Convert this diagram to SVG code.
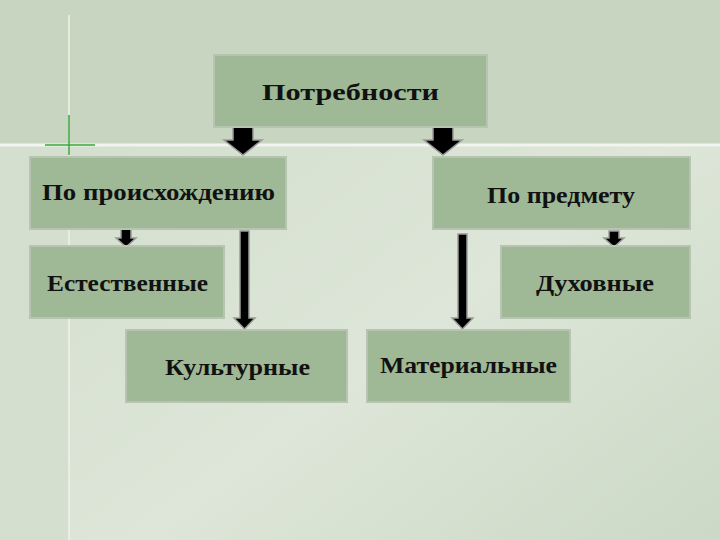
<svg xmlns="http://www.w3.org/2000/svg" width="720" height="540" viewBox="0 0 720 540">
<defs>
<linearGradient id="bg" x1="0" y1="0" x2="1" y2="1">
<stop offset="0" stop-color="#d0dccb"/><stop offset="0.6" stop-color="#dde6d8"/><stop offset="1" stop-color="#ccd9c6"/>
</linearGradient>
<style>
.b{fill:#9fb896;stroke:#b7c4b2;stroke-width:2}
.t{font-family:"Liberation Serif","DejaVu Serif",serif;font-size:24px;font-weight:bold;fill:#111;text-anchor:start}
.a{fill:#000;stroke:#9a9a9a;stroke-width:1.5}
</style>
</defs>
<rect width="720" height="540" fill="url(#bg)"/>
<rect width="720" height="145" fill="#c8d5c0"/>
<rect x="0" y="145" width="69" height="395" fill="#d4dfcf"/>
<line x1="0" y1="145" x2="720" y2="145" stroke="#f2f5ef" stroke-width="3"/>
<line x1="69" y1="15" x2="69" y2="540" stroke="#eef3ea" stroke-width="1.5"/>
<line x1="45" y1="145" x2="95" y2="145" stroke="#3aa53a" stroke-width="1.5"/>
<line x1="69" y1="115" x2="69" y2="155" stroke="#3aa53a" stroke-width="1.5"/>
<g id="connectors">
<path class="a" d="M233,127 H253 V140 H262 L243,155 L224,140 H233 Z"/>
<path class="a" d="M433,127 H453 V140 H462 L443,155 L424,140 H433 Z"/>
<path class="a" d="M121,229 H131 V238 H136 L126,247 L116,238 H121 Z"/>
<path class="a" d="M609,231 H619 V238 H624 L614,247 L604,238 H609 Z"/>
<path class="a" d="M240,231 H249 V318 H255 L244.5,329 L234,318 H240 Z"/>
<path class="a" d="M458,234 H467 V318 H473 L462.5,329 L452,318 H458 Z"/>
</g>
<g id="n1"><rect class="b" x="214" y="55" width="273" height="72"/><text class="t" x="262" y="100" textLength="177" lengthAdjust="spacingAndGlyphs">Потребности</text></g>
<g id="n2"><rect class="b" x="30" y="157" width="256" height="72"/><text class="t" x="42" y="200" textLength="233" lengthAdjust="spacingAndGlyphs">По происхождению</text></g>
<g id="n3"><rect class="b" x="433" y="157" width="257" height="72"/><text class="t" x="487" y="203" textLength="148" lengthAdjust="spacingAndGlyphs">По предмету</text></g>
<g id="n4"><rect class="b" x="30" y="246" width="194" height="72"/><text class="t" x="47" y="291" textLength="161" lengthAdjust="spacingAndGlyphs">Естественные</text></g>
<g id="n5"><rect class="b" x="501" y="246" width="189" height="72"/><text class="t" x="536" y="291" textLength="118" lengthAdjust="spacingAndGlyphs">Духовные</text></g>
<g id="n6"><rect class="b" x="126" y="330" width="221" height="72"/><text class="t" x="165" y="375" textLength="145" lengthAdjust="spacingAndGlyphs">Культурные</text></g>
<g id="n7"><rect class="b" x="367" y="330" width="203" height="72"/><text class="t" x="380" y="373" textLength="177" lengthAdjust="spacingAndGlyphs">Материальные</text></g>
</svg>
